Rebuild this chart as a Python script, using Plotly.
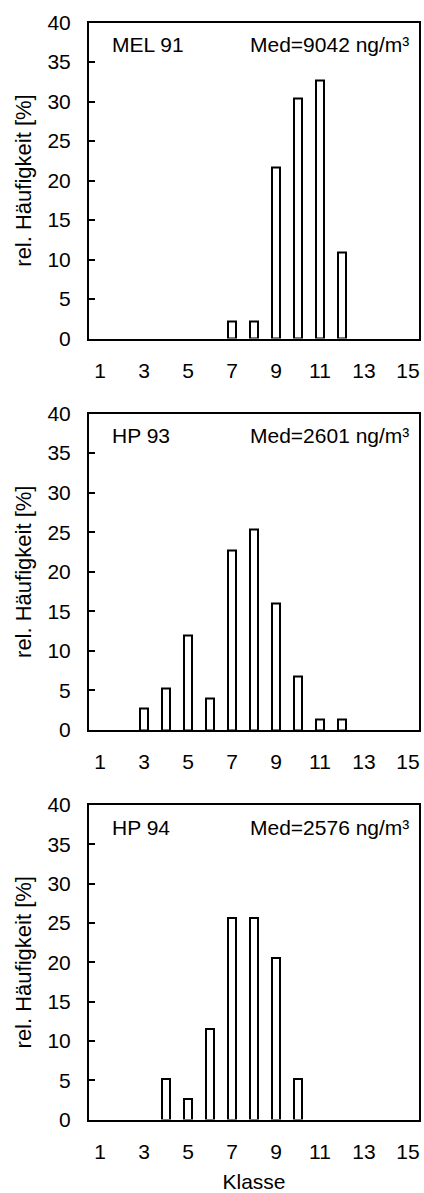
import plotly.graph_objects as go

# Relative class frequencies (%) for three sampling campaigns
klassen = list(range(1, 16))
tick_vals = [1, 3, 5, 7, 9, 11, 13, 15]
y_ticks = [0, 5, 10, 15, 20, 25, 30, 35, 40]

mel91_klasse = [7, 8, 9, 10, 11, 12]
mel91_freq = [2.2, 2.2, 21.7, 30.4, 32.6, 10.9]

hp93_klasse = [3, 4, 5, 6, 7, 8, 9, 10, 11, 12]
hp93_freq = [2.7, 5.3, 11.9, 4.0, 22.7, 25.3, 16.0, 6.7, 1.3, 1.3]

hp94_klasse = [4, 5, 6, 7, 8, 9, 10]
hp94_freq = [5.1, 2.6, 11.5, 25.6, 25.6, 20.5, 5.1]

labels = ["MEL 91", "HP 93", "HP 94"]
medians = ["Med=9042 ng/m³", "Med=2601 ng/m³", "Med=2576 ng/m³"]

W, H = 424, 1193
FONT = "Liberation Sans, Arial, sans-serif"

# pixel frame of each panel: (top, bottom)
panels = [(22.5, 338.5), (413.5, 730.0), (805.0, 1119.5)]
x_left, x_right = 89.0, 419.0

fig = go.Figure()
series = [(mel91_klasse, mel91_freq), (hp93_klasse, hp93_freq), (hp94_klasse, hp94_freq)]

for i, ((kx, fy), (top, bot)) in enumerate(zip(series, panels)):
    n = "" if i == 0 else str(i + 1)
    fig.add_trace(go.Bar(
        x=kx, y=fy, width=0.33,
        marker=dict(color="white", line=dict(color="black", width=2)),
        xaxis="x" + n, yaxis="y" + n, showlegend=False,
    ))
    fig.update_layout(**{
        "xaxis" + n: dict(
            domain=[x_left / W, x_right / W], anchor="y" + n,
            range=[0.5, 15.5], tickmode="array", tickvals=tick_vals,
            ticks="", showline=True, mirror=True, linecolor="black", linewidth=2,
            showgrid=False, zeroline=False, ticklabelstandoff=12,
            tickfont=dict(family=FONT, size=21, color="black"),
            title=dict(text="Klasse" if i == 2 else "", standoff=15,
                       font=dict(family=FONT, size=21, color="black")),
            automargin=False,
        ),
        "yaxis" + n: dict(
            domain=[(H - bot) / H, (H - top) / H], anchor="x" + n,
            range=[0, 40], tickmode="array", tickvals=y_ticks,
            ticks="inside", ticklen=6, tickwidth=2, tickcolor="black",
            showline=True, mirror=True, linecolor="black", linewidth=2,
            showgrid=False, zeroline=False, ticklabelstandoff=12,
            tickfont=dict(family=FONT, size=21, color="black"),
            title=dict(text="rel. Häufigkeit [%]", standoff=10,
                       font=dict(family=FONT, size=22, color="black")),
            automargin=False,
        ),
    })
    fig.add_annotation(
        text=labels[i], xref="x" + n + " domain", yref="y" + n + " domain",
        x=0.065, y=0.93, xanchor="left", yanchor="middle", showarrow=False,
        font=dict(family=FONT, size=21, color="black"),
    )
    fig.add_annotation(
        text=medians[i], xref="x" + n + " domain", yref="y" + n + " domain",
        x=0.975, y=0.93, xanchor="right", yanchor="middle", showarrow=False,
        font=dict(family=FONT, size=21, color="black"),
    )

fig.update_layout(
    width=W, height=H, margin=dict(l=0, r=0, t=0, b=0),
    paper_bgcolor="white", plot_bgcolor="white", bargap=0,
)

fig.write_html("out.html")
